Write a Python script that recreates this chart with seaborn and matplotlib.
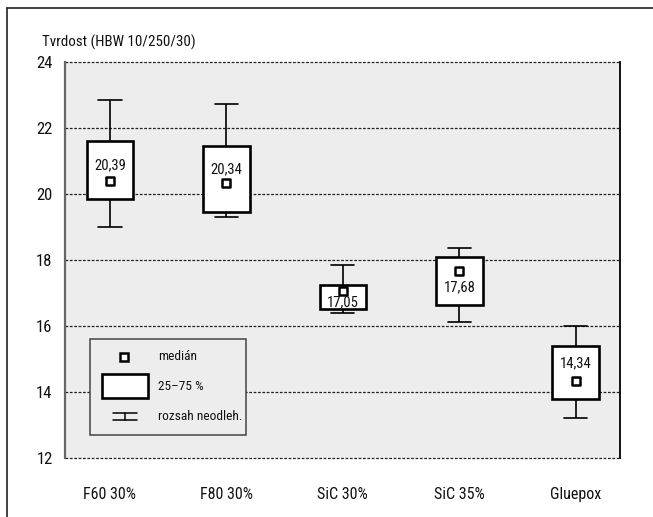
import matplotlib
matplotlib.use("Agg")
import matplotlib.pyplot as plt
from matplotlib.lines import Line2D
from matplotlib.patches import Rectangle
import pandas as pd
import seaborn as sns

# Five-number summaries of hardness per material
categories = ["F60 30%", "F80 30%", "SiC 30%", "SiC 35%", "Gluepox"]
minima = [19.01, 19.30, 16.39, 16.13, 13.20]
q1 = [19.85, 19.45, 16.51, 16.64, 13.78]
medians = [20.39, 20.34, 17.05, 17.68, 14.34]
q3 = [21.62, 21.45, 17.23, 18.10, 15.39]
maxima = [22.86, 22.74, 17.85, 18.37, 16.00]
yticks = [12, 14, 16, 18, 20, 22, 24]

# where each median label sits relative to its marker
label_offsets = [0.47, 0.42, -0.34, -0.52, 0.53]

sns.set_style("white")
FONT = ["Roboto Condensed", "DejaVu Sans"]
plt.rcParams["font.family"] = FONT

rows = []
for cat, a, b, c, d, e in zip(categories, minima, q1, medians, q3, maxima):
    for v in (a, b, c, d, e):
        rows.append({"material": cat, "hbw": v})
df = pd.DataFrame(rows)
med_df = pd.DataFrame({"material": categories, "hbw": medians})

W, H = 653, 517
fig = plt.figure(figsize=(W / 100, H / 100), dpi=100)
ax = fig.add_axes([65 / W, 1 - 458 / H, (620 - 65) / W, (458 - 62) / H])
ax.set_facecolor("#ecedec")

sns.boxplot(
    data=df, x="material", y="hbw", order=categories, ax=ax,
    whis=(0, 100), width=0.4, color="white", linecolor="black",
    showfliers=False,
    boxprops=dict(linewidth=1.9, edgecolor="black", facecolor="white"),
    whiskerprops=dict(linewidth=1.2, color="black"),
    capprops=dict(linewidth=1.2, color="black"),
    medianprops=dict(visible=False),
)
sns.scatterplot(
    data=med_df, x="material", y="hbw", ax=ax, marker="s", s=30,
    facecolor="white", edgecolor="black", linewidth=1.8, zorder=5, legend=False,
)
for i, (m, off) in enumerate(zip(medians, label_offsets)):
    ax.text(i, m + off, f"{m:.2f}".replace(".", ","), ha="center", va="center",
            fontsize=10.5, color="#111111", zorder=6)

ax.set_xlim(-0.386, 4.38)
ax.set_ylim(12, 24)
ax.set_yticks(yticks)
ax.set_xlabel("")
ax.set_ylabel("")
ax.set_axisbelow(True)
ax.yaxis.grid(False)
ax.xaxis.grid(False)
for t in yticks:
    ax.axhline(t, linestyle=(0, (2.2, 1.3)), color="#222222", linewidth=0.9,
               zorder=0.5, clip_on=False)
for side in ("top", "bottom"):
    ax.spines[side].set_visible(False)
ax.spines["left"].set_color("#666666")
ax.spines["left"].set_linewidth(1.6)
ax.spines["right"].set_color("#111111")
ax.spines["right"].set_linewidth(1.4)
ax.tick_params(axis="y", length=7, width=0.9, color="#222222", pad=2,
               labelsize=12, labelcolor="#111111")
ax.tick_params(axis="x", length=8, width=1.0, color="#555555", pad=13,
               labelsize=11.5, labelcolor="#111111")

# key explaining the symbols
def fx(px):
    return (px - 65) / (620 - 65)

def fy(py):
    return (458 - py) / (458 - 62)

tr = ax.transAxes
ax.add_patch(Rectangle((fx(90), fy(435)), fx(246) - fx(90), fy(339) - fy(435),
                       transform=tr, facecolor="#ecedec", edgecolor="#444444",
                       linewidth=1.1, zorder=7))
ax.add_line(Line2D([fx(124)], [fy(357)], transform=tr, marker="s",
                   markersize=5.5, markerfacecolor="white", markeredgecolor="black",
                   markeredgewidth=1.8, linestyle="none", zorder=8))
ax.add_patch(Rectangle((fx(102), fy(398)), fx(148) - fx(102), fy(374) - fy(398),
                       transform=tr, facecolor="white", edgecolor="black",
                       linewidth=1.9, zorder=8))
for yy in (413, 420):
    ax.add_line(Line2D([fx(113), fx(137)], [fy(yy), fy(yy)], transform=tr,
                       color="black", linewidth=1.1, zorder=8))
ax.add_line(Line2D([fx(125), fx(125)], [fy(413), fy(420)], transform=tr,
                   color="black", linewidth=1.1, zorder=8))
for py, txt in ((357, "medián"), (386, "25–75 %"), (417, "rozsah neodleh.")):
    ax.text(fx(158), fy(py), txt, transform=tr, ha="left", va="center",
            fontsize=9.6, color="#111111", zorder=8)

fig.text(42 / W, 1 - 42 / H, "Tvrdost (HBW 10/250/30)", ha="left", va="center",
         fontsize=10.8, color="#111111")

# partial outer frame
fig.add_artist(Line2D([7 / W, 1], [1 - 8 / H, 1 - 8 / H], transform=fig.transFigure,
                      color="#333333", linewidth=1.3))
fig.add_artist(Line2D([7 / W, 7 / W], [0, 1 - 8 / H], transform=fig.transFigure,
                      color="#333333", linewidth=1.3))

fig.savefig("out.png", dpi=100, facecolor="white")
